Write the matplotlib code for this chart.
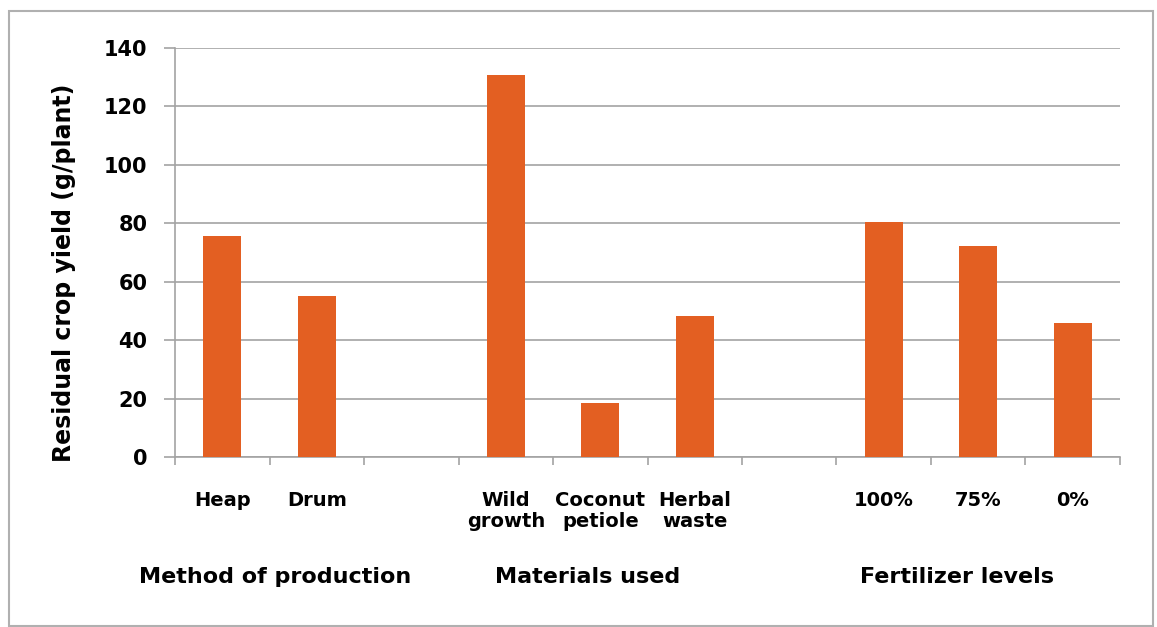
import numpy as np
import matplotlib
matplotlib.use("Agg")
import matplotlib.pyplot as plt
from matplotlib.patches import Rectangle

# Residual crop yield by treatment, grouped by experimental factor
group_names = ["Method of production", "Materials used", "Fertilizer levels"]
group_categories = [
    ["Heap", "Drum"],
    ["Wild\ngrowth", "Coconut\npetiole", "Herbal\nwaste"],
    ["100%", "75%", "0%"],
]
group_values = [
    [75.5, 55.0],
    [130.8, 18.6, 48.3],
    [80.5, 72.2, 45.8],
]
y_ticks = [0, 20, 40, 60, 80, 100, 120, 140]
y_label = "Residual crop yield (g/plant)"

bar_color = "#E35F22"
grid_color = "#a3a3a3"

fig = plt.figure(figsize=(11.57, 6.27), dpi=100)
ax = fig.add_axes([0.1513, 0.2711, 0.968 - 0.1513, 0.9234 - 0.2711])

# Lay groups out on one category axis with an empty slot between groups
positions, labels, values = [], [], []
pos = 0
for gi, (cats, vals) in enumerate(zip(group_categories, group_values)):
    for c, v in zip(cats, vals):
        positions.append(pos)
        labels.append(c)
        values.append(v)
        pos += 1
    if gi < len(group_categories) - 1:
        pos += 1
n_slots = pos

# Group captions sit in free text boxes under each group
group_label_x = [0.56, 3.87, 7.77]

ax.bar(positions, values, width=0.4, color=bar_color, zorder=3)

ax.set_xlim(-0.5, n_slots - 0.5)
ax.set_ylim(0, 140)
ax.set_yticks(y_ticks)
ax.set_yticklabels([str(t) for t in y_ticks], fontsize=15, fontweight="bold")
ax.yaxis.grid(True, color=grid_color, linewidth=1.2, zorder=0)
ax.set_axisbelow(True)

# Tick marks at the slot boundaries, labels under each bar
ax.set_xticks(np.arange(-0.5, n_slots, 1.0))
ax.set_xticklabels([])
ax.tick_params(axis="x", direction="out", length=6, color=grid_color, width=1.2)
ax.tick_params(axis="y", direction="out", length=8, color=grid_color, width=1.2, pad=12)

for side in ("top", "right"):
    ax.spines[side].set_visible(False)
for side in ("left", "bottom"):
    ax.spines[side].set_color(grid_color)
    ax.spines[side].set_linewidth(1.2)

label_tf = ax.get_xaxis_transform()
for p, lab in zip(positions, labels):
    ax.text(p, -0.082, lab, transform=label_tf, ha="center", va="top",
            fontsize=14, fontweight="bold", linespacing=1.15)

for gx, gname in zip(group_label_x, group_names):
    ax.text(gx, -0.268, gname, transform=label_tf, ha="center", va="top",
            fontsize=16, fontweight="bold")

fig.text(0.055, 0.565, y_label, rotation=90, ha="center", va="center",
         fontsize=17, fontweight="bold")

# Thin border around the whole chart area
fig.patches.append(Rectangle((9 / 1157, 1 / 627), (1153 - 9) / 1157, (616 - 1) / 627,
                             transform=fig.transFigure, fill=False,
                             edgecolor="#b0b0b0", linewidth=1.5))

fig.savefig("out.png", dpi=100, facecolor="white")
